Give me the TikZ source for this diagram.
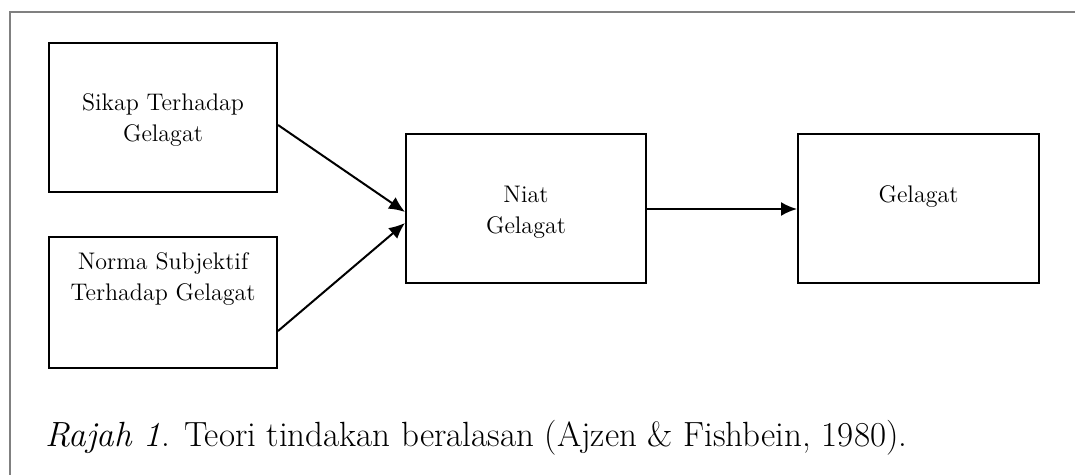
\documentclass[tikz,border=0pt]{standalone}
\usepackage{tikz}
\usetikzlibrary{arrows.meta, positioning}

\tikzset{
  block/.style={draw, line width=1pt, inner sep=0pt},
  boxtext/.style={align=center, inner sep=0pt, font=\fontsize{12}{15.5}\selectfont},
  link/.style={-{Latex[length=8pt,width=7pt]}, line width=1pt},
}

\begin{document}
\begin{tikzpicture}[x=0.5pt, y=-0.5pt]
\useasboundingbox (0,0) rectangle (1075,475);
% Frame
\draw[gray, line width=1pt] (1075,12) -- (10,12) -- (10,475);

% Draw boxes
\foreach \name/\x/\y/\w/\h in {sikap/163/117.5/114/74.5, norma/163/302.5/114/65.5,
                               niat/526/208.5/120/74.5, gelagat/918.5/208.5/120.5/74.5} {
    \node[block, minimum width=\w pt, minimum height=\h pt] (\name) at (\x,\y) {};
}

% Box texts
\node[boxtext] (sikaptext) at ([yshift=-1.25pt]sikap.center) {Sikap Terhadap\\Gelagat};
\node[boxtext] (normatext) at ([yshift=11.75pt]norma.center) {Norma Subjektif\\Terhadap Gelagat};
\node[boxtext] (niattext) at ([yshift=-1.75pt]niat.center) {Niat\\Gelagat};
\node[boxtext] (gelagattext) at ([yshift=5.75pt]gelagat.center) {Gelagat};

% Draw arrows
\draw[link] ([yshift=-3.75pt]sikap.east) -- ([yshift=-1.75pt]niat.west);
\draw[link] ([yshift=-14.25pt]norma.east) -- ([yshift=-7.25pt]niat.west);
\draw[link] ([yshift=-0.25pt]niat.east) -- ([yshift=-0.25pt]gelagat.west);

% Caption
\node[anchor=base west, inner sep=0pt, font=\fontsize{17.5}{21}\selectfont] (caption) at (45,446)
    {\textit{Rajah 1}. Teori tindakan beralasan (Ajzen \& Fishbein, 1980).};
\end{tikzpicture}
\end{document}
